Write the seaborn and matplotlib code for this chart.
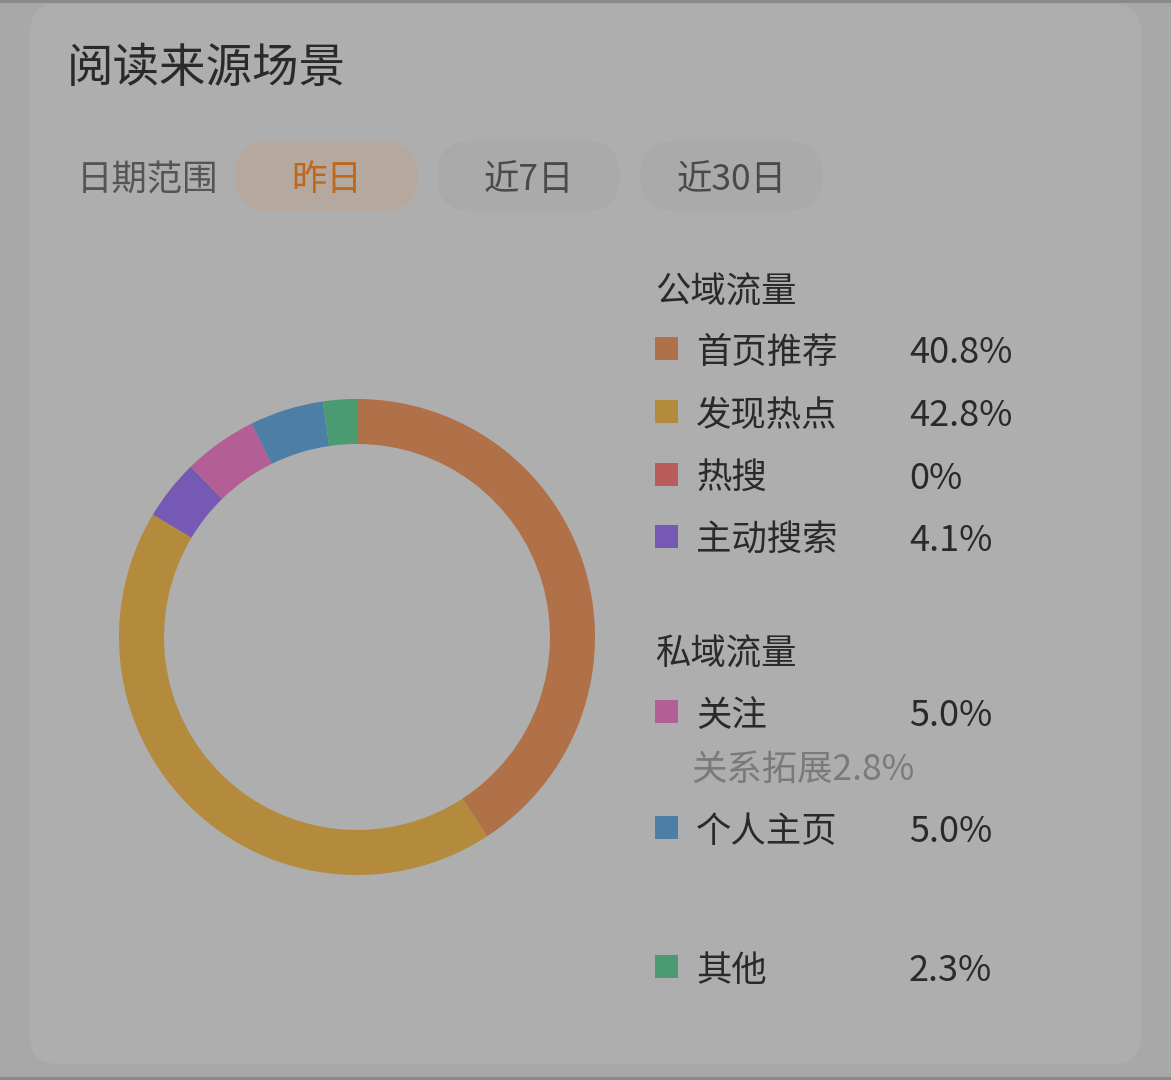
import matplotlib
matplotlib.use("Agg")
import matplotlib.pyplot as plt
from matplotlib.patches import FancyBboxPatch, Rectangle
import seaborn as sns

# ---- data ----
title = "阅读来源场景"
range_label = "日期范围"
range_options = ["昨日", "近7日", "近30日"]
public_header = "公域流量"
private_header = "私域流量"
categories = ["首页推荐", "发现热点", "热搜", "主动搜索", "关注", "个人主页", "其他"]
shares = [40.8, 42.8, 0.0, 4.1, 5.0, 5.0, 2.3]
share_labels = ["40.8%", "42.8%", "0%", "4.1%", "5.0%", "5.0%", "2.3%"]
sub_note = "关系拓展2.8%"
colors = ["#b07048", "#b48a3c", "#b85c5c", "#7659b4", "#b45e96", "#4c7ea6", "#4a9a72"]

sns.set_style("white")
plt.rcParams['font.family'] = ['Noto Sans CJK SC', 'DejaVu Sans']

W, H = 1171, 1080
fig = plt.figure(figsize=(W / 100, H / 100), dpi=100)
fig.patch.set_facecolor("#a8a8a8")

bg = fig.add_axes([0, 0, 1, 1])
bg.set_xlim(0, W)
bg.set_ylim(H, 0)
bg.axis("off")

bg.add_patch(Rectangle((0, 0), W, 2.5, color="#8a8a8a", lw=0))
bg.add_patch(Rectangle((0, 1077), W, 3, color="#8a8a8a", lw=0))

bg.add_patch(FancyBboxPatch((30, 4), 1111, 1060, boxstyle="round,pad=0,rounding_size=28",
                            fc="#aeaeae", ec="none"))

txt = "#2a2a2a"
fs = 25.5
dy = 3
bg.text(67, 66 + dy, title, fontsize=33.5, color=txt, va="center", ha="left")

bg.text(77, 177 + dy, range_label, fontsize=fs, color="#555555", va="center", ha="left")
pill_x = [235, 437, 640]
pill_fc = ["#b5a89e", "#aaaaaa", "#aaaaaa"]
pill_tc = ["#c0681a", "#4a4a4a", "#4a4a4a"]
for x0, lab, fc, tc in zip(pill_x, range_options, pill_fc, pill_tc):
    bg.add_patch(FancyBboxPatch((x0, 141), 183, 70, boxstyle="round,pad=0,rounding_size=35",
                                fc=fc, ec="none"))
    bg.text(x0 + 91.5, 177 + dy, lab, fontsize=fs, color=tc, va="center", ha="center")

lx, tx, vx = 655, 696, 909
bg.text(lx, 289 + dy, public_header, fontsize=fs, color=txt, va="center", ha="left")
bg.text(lx, 651 + dy, private_header, fontsize=fs, color=txt, va="center", ha="left")
row_y = [350, 413, 476, 538, 713, 829, 968]
for y, cat, lab, col in zip(row_y, categories, share_labels, colors):
    bg.add_patch(Rectangle((lx, y - 13), 23, 23, color=col, lw=0))
    bg.text(tx, y + dy, cat, fontsize=fs, color=txt, va="center", ha="left")
    bg.text(vx, y + dy, lab, fontsize=fs + 0.5, color=txt, va="center", ha="left")
bg.text(691, 767 + dy, sub_note, fontsize=fs, color="#7a7a7a", va="center", ha="left")

# donut
cx, cy, r = 357, 637, 238
ax = fig.add_axes([(cx - r) / W, (H - cy - r) / H, 2 * r / W, 2 * r / H])
ax.pie(shares, colors=colors, startangle=90, counterclock=False,
       wedgeprops=dict(width=45 / 238, linewidth=0), radius=1.0)
ax.set_xlim(-1, 1)
ax.set_ylim(-1, 1)
ax.set_aspect("equal")
ax.axis("off")

fig.savefig("out.png", dpi=100, facecolor=fig.get_facecolor())
